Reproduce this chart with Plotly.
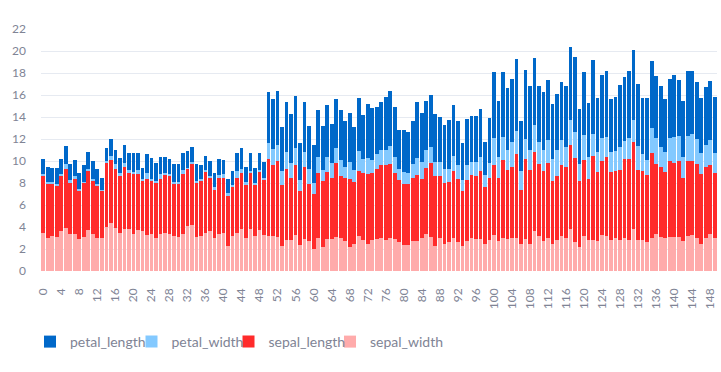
import plotly.graph_objects as go

sepal_length = [5.1,4.9,4.7,4.6,5.0,5.4,4.6,5.0,4.4,4.9,5.4,4.8,4.8,4.3,5.8,5.7,5.4,5.1,5.7,5.1,
 5.4,5.1,4.6,5.1,4.8,5.0,5.0,5.2,5.2,4.7,4.8,5.4,5.2,5.5,4.9,5.0,5.5,4.9,4.4,5.1,
 5.0,4.5,4.4,5.0,5.1,4.8,5.1,4.6,5.3,5.0,
 7.0,6.4,6.9,5.5,6.5,5.7,6.3,4.9,6.6,5.2,5.0,5.9,6.0,6.1,5.6,6.7,5.6,5.8,6.2,5.6,
 5.9,6.1,6.3,6.1,6.4,6.6,6.8,6.7,6.0,5.7,5.5,5.5,5.8,6.0,5.4,6.0,6.7,6.3,5.6,5.5,
 5.5,6.1,5.8,5.0,5.6,5.7,5.7,6.2,5.1,5.7,
 6.3,5.8,7.1,6.3,6.5,7.6,4.9,7.3,6.7,7.2,6.5,6.4,6.8,5.7,5.8,6.4,6.5,7.7,7.7,6.0,
 6.9,5.6,7.7,6.3,6.7,7.2,6.2,6.1,6.4,7.2,7.4,7.9,6.4,6.3,6.1,7.7,6.3,6.4,6.0,6.9,
 6.7,6.9,5.8,6.8,6.7,6.7,6.3,6.5,6.2,5.9]
sepal_width = [3.5,3.0,3.2,3.1,3.6,3.9,3.4,3.4,2.9,3.1,3.7,3.4,3.0,3.0,4.0,4.4,3.9,3.5,3.8,3.8,
 3.4,3.7,3.6,3.3,3.4,3.0,3.4,3.5,3.4,3.2,3.1,3.4,4.1,4.2,3.1,3.2,3.5,3.6,3.0,3.4,
 3.5,2.3,3.2,3.5,3.8,3.0,3.8,3.2,3.7,3.3,
 3.2,3.2,3.1,2.3,2.8,2.8,3.3,2.4,2.9,2.7,2.0,3.0,2.2,2.9,2.9,3.1,3.0,2.7,2.2,2.5,
 3.2,2.8,2.5,2.8,2.9,3.0,2.8,3.0,2.9,2.6,2.4,2.4,2.7,2.7,3.0,3.4,3.1,2.3,3.0,2.5,
 2.6,3.0,2.6,2.3,2.7,3.0,2.9,2.9,2.5,2.8,
 3.3,2.7,3.0,2.9,3.0,3.0,2.5,2.9,2.5,3.6,3.2,2.7,3.0,2.5,2.8,3.2,3.0,3.8,2.6,2.2,
 3.2,2.8,2.8,2.7,3.3,3.2,2.8,3.0,2.8,3.0,2.8,3.8,2.8,2.8,2.6,3.0,3.4,3.1,3.0,3.1,
 3.1,3.1,2.7,3.2,3.3,3.0,2.5,3.0,3.4,3.0]
petal_length = [1.4,1.4,1.3,1.5,1.4,1.7,1.4,1.5,1.4,1.5,1.5,1.6,1.4,1.1,1.2,1.5,1.3,1.4,1.7,1.5,
 1.7,1.5,1.0,1.7,1.9,1.6,1.6,1.5,1.4,1.6,1.6,1.5,1.5,1.4,1.5,1.2,1.3,1.4,1.3,1.5,
 1.3,1.3,1.3,1.6,1.9,1.4,1.6,1.4,1.5,1.4,
 4.7,4.5,4.9,4.0,4.6,4.5,4.7,3.3,4.6,3.9,3.5,4.2,4.0,4.7,3.6,4.4,4.5,4.1,4.5,3.9,
 4.8,4.0,4.9,4.7,4.3,4.4,4.8,5.0,4.5,3.5,3.8,3.7,3.9,5.1,4.5,4.5,4.7,4.4,4.1,4.0,
 4.4,4.6,4.0,3.3,4.2,4.2,4.2,4.3,3.0,4.1,
 6.0,5.1,5.9,5.6,5.8,6.6,4.5,6.3,5.8,6.1,5.1,5.3,5.5,5.0,5.1,5.3,5.5,6.7,6.9,5.0,
 5.7,4.9,6.7,4.9,5.7,6.0,4.8,4.9,5.6,5.8,6.1,6.4,5.6,5.1,5.6,6.1,5.6,5.5,4.8,5.4,
 5.6,5.1,5.1,5.9,5.7,5.2,5.0,5.2,5.4,5.1]
petal_width = [0.2,0.2,0.2,0.2,0.2,0.4,0.3,0.2,0.2,0.1,0.2,0.2,0.1,0.1,0.2,0.4,0.4,0.3,0.3,0.3,
 0.2,0.4,0.2,0.5,0.2,0.2,0.4,0.2,0.2,0.2,0.2,0.4,0.1,0.2,0.2,0.2,0.2,0.1,0.2,0.2,
 0.3,0.3,0.2,0.6,0.4,0.3,0.2,0.2,0.2,0.2,
 1.4,1.5,1.5,1.3,1.5,1.3,1.6,1.0,1.3,1.4,1.0,1.5,1.0,1.4,1.3,1.4,1.5,1.0,1.5,1.1,
 1.8,1.3,1.5,1.2,1.3,1.4,1.4,1.7,1.5,1.0,1.1,1.0,1.2,1.6,1.5,1.6,1.5,1.3,1.3,1.3,
 1.2,1.4,1.2,1.0,1.3,1.2,1.3,1.3,1.1,1.3,
 2.5,1.9,2.1,1.8,2.2,2.1,1.7,1.8,1.8,2.5,2.0,1.9,2.1,2.0,2.4,2.3,1.8,2.2,2.3,1.5,
 2.3,2.0,2.0,1.8,2.1,1.8,1.8,1.8,2.1,1.6,1.9,2.0,2.2,1.5,1.4,2.3,2.4,1.8,1.8,2.1,
 2.4,2.3,1.9,2.3,2.5,2.3,1.9,2.0,2.3,1.8]

index = list(range(len(sepal_length)))
x_ticks = list(range(0, 150, 4))
y_ticks = list(range(0, 23, 2))

# (name, values, colour, legend id, legend left edge in px)
series = [
    ("sepal_width", sepal_width, "#FFABAB", "legend4", 330),
    ("sepal_length", sepal_length, "#FF2B2B", "legend3", 228.5),
    ("petal_width", petal_width, "#83C9FF", "legend2", 131.5),
    ("petal_length", petal_length, "#0068C9", "legend", 30),
]

FONT = "Source Sans Pro, Lato, sans-serif"
GRAY = "#808495"
W, H = 721, 372
ML, MR, MT, MB = 41, 4, 29, 101
PW = W - ML - MR

fig = go.Figure()
legend_layout = {}
for name, vals, color, lg, lx in series:
    fig.add_trace(go.Bar(x=index, y=vals, name=name, legend=lg,
                         marker=dict(color=color, line=dict(width=0))))
    legend_layout[lg] = dict(orientation="h", x=(lx - ML) / PW, xanchor="left",
                             yref="container", y=1 - 342 / H, yanchor="middle",
                             font=dict(size=14, color=GRAY), itemwidth=30,
                             bgcolor="rgba(0,0,0,0)")

fig.update_layout(
    barmode="stack",
    bargap=0.18,
    width=W, height=H,
    margin=dict(l=ML, r=MR, t=MT, b=MB),
    paper_bgcolor="white", plot_bgcolor="white",
    font=dict(family=FONT, color=GRAY, size=12),
    showlegend=True,
    **legend_layout,
    xaxis=dict(tickmode="array", tickvals=x_ticks, ticktext=[str(v) for v in x_ticks],
               tickangle=-90, showgrid=False, zeroline=False, showline=False,
               range=[-0.5, 149.5], ticks="", ticklabelstandoff=14,
               tickfont=dict(size=12, color=GRAY)),
    yaxis=dict(tickmode="array", tickvals=y_ticks, range=[0, 22], showgrid=True,
               gridcolor="#E6EAF1", zeroline=False, showline=False, ticks="",
               ticklabelstandoff=14, tickfont=dict(size=12, color=GRAY)),
)

fig.write_html("out.html", config={"displayModeBar": False},
               post_script="document.body.style.margin='0';document.body.style.padding='0';")
